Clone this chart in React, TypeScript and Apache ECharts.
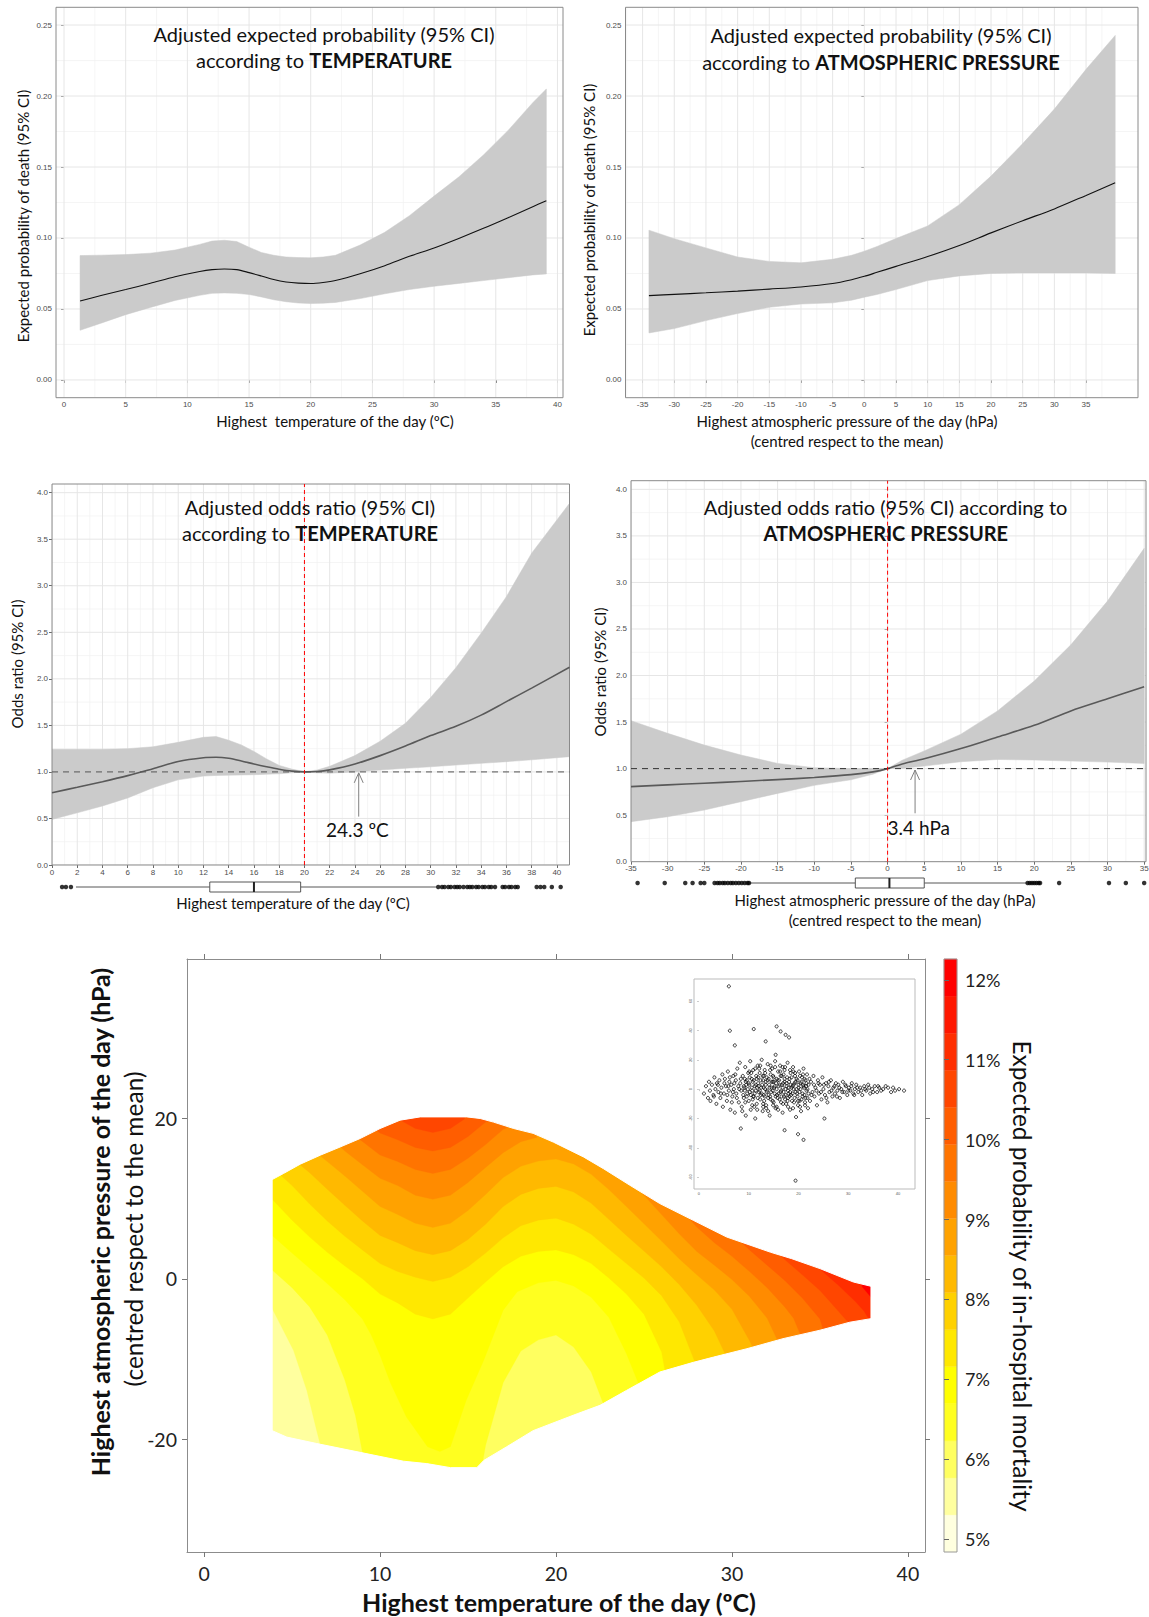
import React, { useEffect, useRef } from "react";
import * as echarts from "echarts";

// ---------------- Panel A: expected probability vs temperature ----------------
const tempX = [1.3, 3, 5, 7, 9, 11, 12, 13, 14, 15, 16, 17, 18, 19, 20, 21, 22, 24, 26, 28, 30, 32, 34, 36, 38, 39.1];
const tempProbFit = [0.0556, 0.0595, 0.0637, 0.0681, 0.0727, 0.0764, 0.0777, 0.0782, 0.0777, 0.0756, 0.0732, 0.0707, 0.069, 0.0682, 0.0679, 0.0686, 0.07, 0.0748, 0.0805, 0.0871, 0.093, 0.0997, 0.1068, 0.1143, 0.122, 0.1263];
const tempProbUp = [0.0876, 0.0879, 0.0883, 0.0893, 0.0915, 0.0955, 0.0978, 0.0984, 0.0975, 0.0935, 0.0898, 0.0878, 0.0866, 0.0862, 0.086, 0.0866, 0.0878, 0.095, 0.104, 0.1157, 0.1295, 0.143, 0.1585, 0.1758, 0.1953, 0.205];
const tempProbLow = [0.035, 0.04, 0.046, 0.0511, 0.056, 0.0596, 0.061, 0.0613, 0.061, 0.0602, 0.0585, 0.0565, 0.0551, 0.0542, 0.0538, 0.0541, 0.0546, 0.0573, 0.0607, 0.0637, 0.066, 0.068, 0.07, 0.072, 0.074, 0.0747];

// ---------------- Panel B: expected probability vs pressure ----------------
const presX = [-34, -30, -25, -20, -15, -10, -5, -2, 0, 2, 5, 10, 15, 20, 25, 30, 35, 39.6];
const presProbFit = [0.0594, 0.0603, 0.0614, 0.0626, 0.064, 0.0655, 0.0679, 0.0706, 0.073, 0.0758, 0.08, 0.0869, 0.0947, 0.1036, 0.1122, 0.1205, 0.13, 0.1389];
const presProbUp = [0.1055, 0.0995, 0.093, 0.0866, 0.0835, 0.0825, 0.085, 0.0878, 0.0907, 0.094, 0.0996, 0.1085, 0.1235, 0.1436, 0.1665, 0.1908, 0.2188, 0.2427];
const presProbLow = [0.0331, 0.0362, 0.0418, 0.0468, 0.0512, 0.0535, 0.0543, 0.0562, 0.0583, 0.0602, 0.0637, 0.07, 0.0733, 0.075, 0.0754, 0.0754, 0.0754, 0.075];

// ---------------- Panel C: odds ratio vs temperature ----------------
const orTempX = [0, 2, 4, 6, 8, 10, 12, 13, 14, 15, 16, 17, 18, 19, 20, 21, 22, 24, 26, 28, 30, 32, 34, 36, 38, 41];
const orTempFit = [0.777, 0.835, 0.895, 0.96, 1.035, 1.112, 1.152, 1.157, 1.146, 1.118, 1.085, 1.055, 1.028, 1.008, 1.0, 1.004, 1.022, 1.085, 1.175, 1.278, 1.39, 1.49, 1.61, 1.755, 1.9, 2.124];
const orTempUp = [1.243, 1.243, 1.243, 1.25, 1.27, 1.318, 1.372, 1.38, 1.34, 1.29, 1.22, 1.14, 1.07, 1.03, 1.003, 1.02, 1.06, 1.175, 1.33, 1.522, 1.8, 2.12, 2.49, 2.883, 3.35, 3.885];
const orTempLow = [0.49, 0.56, 0.634, 0.72, 0.83, 0.915, 0.955, 0.962, 0.965, 0.967, 0.97, 0.975, 0.98, 0.99, 1.0, 0.99, 0.986, 1.0, 1.02, 1.039, 1.055, 1.074, 1.092, 1.11, 1.13, 1.164];
const tempReference = 20;
const tempThreshold = 24.3;
const tempThresholdLabel = "24.3 ºC";
const tempBox = [1.9, 12.5, 16.0, 19.7, 30.45];
const tempOutliers = [0.8, 1.1, 1.5, 30.6, 30.9, 31.1, 31.4, 31.6, 31.9, 32.1, 32.3, 32.6, 32.9, 33.1, 33.3, 33.6, 33.8, 34.1, 34.3, 34.6, 34.8, 35.1, 35.7, 35.9, 36.2, 36.4, 36.7, 36.9, 38.4, 38.7, 39.0, 39.6, 40.3];

// ---------------- Panel D: odds ratio vs pressure ----------------
const orPresX = [-35, -30, -25, -20, -15, -10, -5, -2, 0, 2, 5, 10, 15, 20, 25, 30, 35];
const orPresFit = [0.806, 0.825, 0.843, 0.862, 0.882, 0.905, 0.935, 0.965, 1.0, 1.05, 1.105, 1.215, 1.34, 1.465, 1.62, 1.75, 1.88];
const orPresUp = [1.515, 1.379, 1.253, 1.146, 1.056, 1.01, 1.0, 1.0, 1.0, 1.09, 1.19, 1.37, 1.62, 1.94, 2.33, 2.8, 3.366];
const orPresLow = [0.43, 0.483, 0.555, 0.645, 0.734, 0.82, 0.88, 0.94, 1.0, 1.005, 1.027, 1.074, 1.098, 1.092, 1.081, 1.07, 1.056];
const presReference = 0;
const presThreshold = 3.75;
const presThresholdLabel = "3.4 hPa";
const presBox = [-18.75, -4.4, 0.25, 5.0, 19.0];
const presOutliers = [-34.1, -30.4, -27.6, -26.6, -25.5, -25.0, -23.6, -23.2, -22.9, -22.5, -22.2, -21.8, -21.4, -21.1, -20.7, -20.3, -19.9, -19.5, -19.1, -18.9, 19.1, 19.4, 19.7, 20.0, 20.3, 20.6, 20.8, 23.4, 30.2, 32.5, 35.0];

// ---------------- Panel E: joint surface (contours of expected probability) ----------------
const heatBreaks = [4.84, 5.304, 5.767, 6.231, 6.695, 7.159, 7.622, 8.086, 8.55, 9.014, 9.477, 9.941, 10.405, 10.869, 11.332, 11.796, 12.26];
const heatColors = ["#FFFFDF", "#FFFF9F", "#FFFF60", "#FFFF20", "#FFFF00", "#FFE800", "#FFD100", "#FFB900", "#FFA200", "#FF8B00", "#FF7400", "#FF5D00", "#FF4600", "#FF2E00", "#FF1700", "#FF0000"];
const heatTicks = [5, 6, 7, 8, 9, 10, 11, 12];
// boundary above which the surface reaches level k (temperature, pressure)
const contourL2 = [[3, -0.8], [3.87, -3.7], [5.08, -8.9], [5.84, -13.9], [6.4, -18.9], [6.6, -20.6], [6.6, -30], [40, -30]];
const contourL3 = [[3, 2.9], [3.87, 1.1], [5, -1.1], [6, -3.5], [7, -7], [8, -12.6], [8.6, -17], [9, -21.6], [9.2, -30], [15.7, -30], [15.8, -23.2], [16, -20.7], [17, -12.9], [18, -9], [19, -7.6], [20, -7.0], [21, -8.5], [22, -11.6], [22.7, -15.6], [22.8, -30], [40, -30]];
const contourL4 = [[3, 7.3], [3.87, 5.4], [5, 3.2], [6, 1.3], [7, -0.6], [8, -2.6], [9, -5.0], [9.5, -7], [10, -9.5], [10.6, -13], [11.5, -17.2], [12.7, -20.9], [13.4, -21.5], [14, -20.9], [14.9, -15.1], [15.9, -10.1], [17, -3.9], [17.8, -1.6], [19, -0.5], [20, -0.2], [21, -0.9], [22, -2.3], [23, -4.8], [24, -9.3], [24.7, -13.1], [24.8, -30], [40, -30]];
const contourL5 = [[3, 11.9], [3.87, 9.9], [5, 7.3], [6, 5.2], [7, 3.3], [8, 1.6], [9, 0], [10, -1.9], [11, -3], [12, -4.4], [13, -5.0], [14, -4.4], [15, -2.4], [16, -0.4], [17, 1.5], [18, 2.8], [19, 3.4], [20, 3.6], [21, 3.0], [22, 1.9], [23, 0.1], [24, -1.9], [25, -4.4], [26, -9.1], [26.2, -11.5], [26.3, -30], [40, -30]];
const contourL6 = [[3, 28], [4.3, 28], [4.3, 13.0], [5, 11.6], [6, 9.3], [7, 7.2], [8, 5.3], [9, 3.6], [10, 1.9], [11, 0.9], [12, 0.2], [13, -0.35], [14, 0.2], [15, 1.5], [16, 3.2], [17, 5.1], [18, 6.6], [19, 7.3], [20, 7.55], [21, 6.8], [22, 5.55], [23, 3.7], [24, 1.9], [25, 0.1], [26, -2.1], [27, -5.35], [27.5, -8.15], [27.9, -10.4], [28, -30], [40, -30]];
const contourL7 = [[3, 28], [5.4, 28], [5.4, 14.3], [6, 13.2], [7, 11.15], [8, 9.15], [9, 7.2], [10, 5.4], [11, 4.5], [12, 3.5], [13, 3.0], [14, 3.5], [15, 4.9], [16, 6.8], [17, 9.0], [18, 10.5], [19, 11.25], [20, 11.5], [21, 10.8], [22, 9.4], [23, 7.4], [24, 5.4], [25, 3.45], [26, 1.5], [27, -0.7], [28, -3.3], [29, -6.5], [29.6, -9.3], [29.7, -30], [40, -30]];
const contourL8 = [[3, 28], [6.6, 28], [6.6, 15.3], [7, 14.6], [8, 12.8], [9, 10.9], [10, 9.0], [11, 8.0], [12, 6.9], [13, 6.4], [14, 6.9], [15, 8.5], [16, 10.5], [17, 12.6], [18, 14.0], [19, 14.65], [20, 14.9], [21, 14.3], [22, 13.0], [23, 11.1], [24, 9.0], [25, 6.85], [26, 4.7], [27, 2.5], [28, 0.5], [29, -1.4], [30, -3.8], [31, -7.7], [31.2, -8.6], [31.3, -30], [40, -30]];
const contourL9 = [[3, 28], [7.8, 28], [7.8, 16.3], [8, 15.9], [9, 14.2], [10, 12.5], [11, 11.6], [12, 10.4], [13, 9.9], [14, 10.4], [15, 12.0], [16, 13.85], [17, 15.7], [18, 17.05], [18.9, 17.6], [18.9, 28], [24.8, 28], [24.8, 10.8], [25, 10.4], [26, 8.0], [27, 5.6], [28, 3.4], [29, 1.7], [30, -0.1], [31, -2.2], [32, -4.9], [32.5, -7.25], [32.6, -7.7], [32.7, -30], [40, -30]];
const contourL10 = [[3, 28], [8.8, 28], [8.8, 17.4], [9, 17.1], [10, 15.4], [11, 14.6], [12, 13.6], [13, 13.1], [14, 13.6], [15, 15.0], [16, 16.7], [17, 18.6], [17.2, 18.8], [17.2, 28], [27.6, 28], [27.6, 7.4], [28, 6.45], [29, 4.5], [30, 2.8], [31, 0.9], [32, -1.1], [33, -3.5], [33.5, -4.9], [33.9, -7.0], [34, -30], [40, -30]];
const contourL11 = [[3, 28], [9.8, 28], [9.8, 18.5], [10, 18.15], [11, 17.3], [12, 16.35], [13, 15.9], [14, 16.35], [15, 17.7], [16, 19.5], [16.2, 19.7], [16.2, 28], [30.5, 28], [30.5, 4.6], [31, 3.6], [32, 1.7], [33, -0.2], [34, -2.4], [35, -5.0], [35.2, -6.4], [35.3, -30], [40, -30]];
const contourL12 = [[3, 28], [11.2, 28], [11.2, 19.7], [12, 18.7], [13, 18.2], [14, 18.7], [14.8, 19.9], [14.8, 28], [32.7, 28], [32.7, 3.0], [33, 2.4], [34, 0.5], [35, -1.45], [36, -3.9], [36.5, -5.15], [36.7, -5.5], [36.8, -30], [40, -30]];
const contourL13 = [[3, 28], [35, 28], [35, 1.2], [36, -0.7], [37, -2.8], [37.5, -4.0], [37.8, -5.1], [37.9, -30], [40, -30]];
const contourL14 = [[3, 28], [36.8, 28], [36.8, 0.0], [37.5, -1.0], [38, -1.9], [39, -4.4], [39.5, -30], [40, -30]];
const contourL15 = [[3, 28], [37.4, 28], [37.4, -1.0], [37.9, -2.3], [38.5, -6], [40, -30]];
const heatContours = [contourL2, contourL3, contourL4, contourL5, contourL6, contourL7, contourL8, contourL9, contourL10, contourL11, contourL12, contourL13, contourL14, contourL15];
// observed data region (upper and lower edges)
const maskUpper = [[3.87, 12.35], [4.51, 13.1], [5.46, 14.26], [6.6, 15.38], [7.73, 16.4], [8.87, 17.46], [10, 18.7], [11.14, 19.74], [12.28, 20.15], [14.93, 20.15], [15.69, 19.95], [16.45, 19.5], [17.6, 18.7], [18.7, 18.1], [19.86, 17.0], [21.56, 15.17], [22.7, 13.7], [24.2, 11.64], [25.9, 9.36], [27.8, 7.28], [29.7, 5.2], [32.2, 3.3], [33.4, 2.5], [35.0, 1.27], [36.9, -0.4], [37.9, -0.93]];
const maskLower = [[37.9, -4.96], [36.7, -5.4], [35.0, -6.4], [32.9, -7.45], [30.85, -8.7], [28.96, -9.74], [27.8, -10.4], [25.9, -11.6], [24.0, -13.9], [22.5, -15.75], [21.2, -16.8], [20.24, -17.6], [18.7, -18.9], [17.2, -20.9], [15.9, -22.6], [15.5, -23.5], [14.0, -23.5], [12.66, -23.0], [11.33, -22.7], [8.87, -21.6], [6.4, -20.5], [4.7, -19.7], [3.87, -18.9]];

// inset scatter: observed (temperature, pressure) days
const insetPoints = [
  [1.0, -3], [1.4, 2], [1.8, -6], [2.0, 5], [2.2, -1], [2.3, -8], [2.6, 3], [2.9, -4], [3.1, 8], [3.3, 0], [3.5, -10], [3.6, 4], [3.9, -2], [4.1, 6], [4.3, -6], [4.5, 1], [4.7, 10], [4.8, -12], [5.0, -3], [5.2, 7], [5.4, 2], [5.6, -8], [5.8, 12], [6.0, -1], [6.1, 5], [6.3, -14], [6.5, 3], [6.7, -5], [6.9, 9], [7.0, 0],
  [7.2, -16], [7.4, 6], [7.5, -3], [7.7, 14], [7.9, 2], [8.0, -9], [8.2, 18], [8.3, 4], [8.5, -1], [8.6, -12], [8.8, 9], [9.0, -6], [9.1, 1], [9.3, 15], [9.4, -18], [9.6, 6], [9.7, -3], [9.9, 11], [10.0, -8], [10.1, 3], [10.3, 19], [10.4, -14], [10.6, 7], [10.7, -1], [10.9, 13], [11.0, -5], [11.2, 2], [11.3, -20], [11.5, 9], [11.6, -10], [11.8, 16], [11.9, 4], [12.0, -2], [12.2, 11], [12.3, -7], [12.5, 1], [12.6, 20], [12.8, -15], [12.9, 6], [13.0, -4], [13.2, 13], [13.3, 0], [13.5, -11], [13.6, 8], [13.8, 17], [13.9, -6], [14.1, 3], [14.2, -18], [14.4, 10], [14.5, -2], [14.7, 14], [14.8, 5], [15.0, -9], [15.1, 1], [15.3, 19], [15.4, -13], [15.6, 7], [15.7, -4], [15.9, 12], [16.0, 2], [16.2, -7], [16.3, 16], [16.5, -1], [16.6, 9], [16.8, -16], [16.9, 4], [17.1, -5], [17.2, 13], [17.4, 0], [17.5, -10], [17.7, 8], [17.8, 18], [18.0, -3], [18.1, 5], [18.3, -14], [18.4, 11], [18.6, 1], [18.7, -8], [18.9, 15], [19.0, 3], [19.2, -6], [19.3, 9], [19.5, -19], [19.6, 0], [19.8, 6], [19.9, -11], [20.1, 12], [20.2, -2], [20.4, 4], [20.5, -15], [20.7, 8], [20.8, -5], [21.0, 14], [21.1, 1], [21.3, -9], [21.4, 6], [21.6, -1], [21.7, 10], [21.9, -13], [22.0, 3],
  [8.1, 0], [8.9, -4], [9.5, 3], [10.2, -2], [10.8, 5], [11.4, -1], [11.9, 8], [12.4, -4], [12.7, 3], [13.1, -8], [13.4, 5], [13.7, -1], [14.0, 7], [14.3, -5], [14.6, 1], [14.9, 9], [15.2, -3], [15.5, 4], [15.8, -6], [16.1, 6], [16.4, -2], [16.7, 3], [17.0, 10], [17.3, -7], [17.6, 2], [17.9, -1], [18.2, 7], [18.5, -4], [18.8, 2], [19.1, -9], [19.4, 5], [19.7, -3], [20.0, 1], [20.3, 9], [20.6, -7], [20.9, 3], [21.2, -4], [21.5, 2], [21.8, -6], [9.2, 7], [10.5, 11], [11.1, -12], [12.1, 14], [13.5, -13], [14.4, 16], [15.6, -12], [16.8, 15], [17.9, -12], [19.0, 12], [11.7, 1], [13.0, 9], [15.0, 5], [16.5, -9], [18.3, -2], [12.9, -10], [14.8, -8], [17.2, 5], [10.9, -5],
  [9.0, 2], [9.2, -1], [9.4, 5], [9.6, -5], [9.8, 0], [10.0, 4], [10.2, 8], [10.4, -4], [10.6, 1], [10.8, -7], [11.0, 6], [11.2, -3], [11.4, 3], [11.6, 7], [11.8, -6], [12.0, 2], [12.2, -1], [12.4, 6], [12.6, -3], [12.8, 9], [13.0, 1], [13.2, -5], [13.4, 3], [13.6, -2], [13.8, 6], [14.0, -4], [14.2, 1], [14.4, -7], [14.6, 5], [14.8, -1], [15.0, 8], [15.2, 2], [15.4, -5], [15.6, 0], [15.8, 6], [16.0, -3], [16.2, 3], [16.4, 9], [16.6, -5], [16.8, 1], [17.0, -2], [17.2, 7], [17.4, -4], [17.6, 4], [17.8, -8], [18.0, 1], [18.2, -5], [18.4, 3], [18.6, 8], [18.8, -3], [19.0, 0], [19.2, 4], [19.4, -2], [19.6, 7], [19.8, -5], [20.0, 3], [20.2, -8], [20.4, 0], [20.6, 5], [20.8, -3], [21.0, 2], [21.2, 7], [21.4, -6], [21.6, 4], [21.8, 0], [22.0, -3],
  [9.3, -9], [10.1, 12], [10.7, -11], [11.3, 14], [11.7, -14], [12.3, 16], [12.9, -12], [13.3, 11], [13.9, -15], [14.3, 13], [14.9, -11], [15.3, 15], [15.9, -14], [16.3, 12], [16.9, -10], [17.3, 15], [17.9, -6], [18.3, 13], [18.9, -13], [19.3, 11], [19.9, -8], [20.3, -12], [20.9, 10], [21.3, -11], [22.2, 7], [22.6, -4], [23.1, 3], [23.6, -1], [24.0, 4], [24.5, -2], [25.1, 3], [25.6, -6], [26.1, 5], [26.6, -1], [27.2, 2], [27.7, -5], [28.2, 1], [28.8, -2], [29.4, 3], [30.0, -1], [30.6, 2], [31.2, -4], [31.8, 1], [32.6, -1], [33.4, 0], [34.2, 1], [35.0, -2], [36.0, 2], [37.0, 0], [38.0, 1],
  [3.0, -5], [3.8, 3], [4.4, -3], [5.1, 4], [5.7, -4], [6.2, 8], [6.6, -9], [7.1, 4], [7.6, -6], [8.4, 7], [8.7, -15], [7.3, 10], [6.8, -2], [5.9, 2],
  [22.3, -8], [22.5, 5], [22.8, -2], [23.0, 9], [23.2, -5], [23.4, 1], [23.7, -11], [23.9, 6], [24.1, -3], [24.3, 3], [24.6, -7], [24.8, 8], [25.0, 0], [25.3, -4], [25.5, 4], [25.8, -9], [26.0, 2], [26.2, -2], [26.5, 6], [26.8, -5], [27.0, 1], [27.3, -3], [27.5, 4], [27.8, -1], [28.0, 3], [28.3, -6], [28.6, 0], [28.9, 5], [29.2, -2], [29.5, 2], [29.8, -4], [30.1, 1], [30.4, -1], [30.7, 4], [31.0, -3], [31.3, 0], [31.6, 3], [32.0, -2], [32.4, 1], [32.8, -4], [33.2, 2], [33.6, -1], [34.0, 3], [34.4, -3], [34.8, 0], [35.3, 2], [35.8, -2], [36.2, 1], [36.6, -1], [37.5, 2], [38.6, -2], [39.0, 1], [39.4, -1], [40.2, 0], [41.2, -1],
  [6.0, 70], [6.2, 39.8], [11, 40.9], [15.6, 42.7], [16.4, 39.3], [17.4, 37], [18.1, 35.2], [13.4, 32.5], [7.2, 29.8], [15.4, 23.4], [19.9, -30.7], [21, -34.5], [19.4, -62.3], [25.2, -20], [17.2, -28], [8.4, -26.8],
];

// tick values
const p1XMajor = [0, 5, 10, 15, 20, 25, 30, 35, 40];
const p1XMinor = [2.5, 7.5, 12.5, 17.5, 22.5, 27.5, 32.5, 37.5];
const probYMajor = [0, 0.05, 0.1, 0.15, 0.2, 0.25];
const probYMinor = [0.025, 0.075, 0.125, 0.175, 0.225];
const presXMajor = [-35, -30, -25, -20, -15, -10, -5, 0, 5, 10, 15, 20, 25, 30, 35];
const presXMinor = [-37.5, -32.5, -27.5, -22.5, -17.5, -12.5, -7.5, -2.5, 2.5, 7.5, 12.5, 17.5, 22.5, 27.5, 32.5, 37.5];
const p3XMajor = [0, 2, 4, 6, 8, 10, 12, 14, 16, 18, 20, 22, 24, 26, 28, 30, 32, 34, 36, 38, 40];
const p3XMinor = [1, 3, 5, 7, 9, 11, 13, 15, 17, 19, 21, 23, 25, 27, 29, 31, 33, 35, 37, 39];
const orYMajor = [0, 0.5, 1, 1.5, 2, 2.5, 3, 3.5, 4];
const orYMinor = [0.25, 0.75, 1.25, 1.75, 2.25, 2.75, 3.25, 3.75];
const p4XMinor = [-32.5, -27.5, -22.5, -17.5, -12.5, -7.5, -2.5, 2.5, 7.5, 12.5, 17.5, 22.5, 27.5, 32.5];
const heatXTicks = [0, 10, 20, 30, 40];
const heatYTicks = [-20, 0, 20];
const insetXTicks = [0, 10, 20, 30, 40];
const insetYTicks = [-60, -40, -20, 0, 20, 40, 60];

const FONT = "Lato, 'Open Sans', sans-serif";
const GGF = "'Liberation Sans', Arial, sans-serif";

function txt(x: number, y: number, text: string, size: number, opts: any = {}) {
  const color = opts.color || "#111";
  return {
    type: "text",
    x,
    y,
    rotation: opts.rot || 0,
    z: 100,
    silent: true,
    style: {
      text,
      fontSize: size,
      fontFamily: FONT,
      fontWeight: opts.bold ? "bold" : "normal",
      fill: color,
      textAlign: "center",
      textVerticalAlign: "middle",
      align: "center",
      verticalAlign: "middle",
      rich: { b: { fontWeight: "bold", fontSize: size, fontFamily: FONT, fill: color } },
    },
  };
}

function gridLines(idx: number, xMaj: number[], xMin: number[], yMaj: number[], yMin: number[], anchor: number[]) {
  const specs: number[][] = [];
  xMin.forEach((v) => specs.push([0, v, 0]));
  yMin.forEach((v) => specs.push([1, v, 0]));
  xMaj.forEach((v) => specs.push([0, v, 1]));
  yMaj.forEach((v) => specs.push([1, v, 1]));
  return {
    type: "custom",
    xAxisIndex: idx,
    yAxisIndex: idx,
    z: 1,
    silent: true,
    clip: true,
    data: specs.map(() => anchor),
    renderItem: (params: any, api: any) => {
      const s = specs[params.dataIndex];
      const cs = params.coordSys;
      const style = { stroke: s[2] ? "#E6E6E6" : "#F1F1F1", lineWidth: s[2] ? 1 : 0.7 };
      if (s[0] === 0) {
        const px = api.coord([s[1], anchor[1]])[0];
        return { type: "line", shape: { x1: px, y1: cs.y, x2: px, y2: cs.y + cs.height }, style };
      }
      const py = api.coord([anchor[0], s[1]])[1];
      return { type: "line", shape: { x1: cs.x, y1: py, x2: cs.x + cs.width, y2: py }, style };
    },
  };
}

function band(idx: number, xs: number[], low: number[], up: number[]) {
  const pts = [...xs.map((x, i) => [x, up[i]]), ...xs.map((x, i) => [x, low[i]]).reverse()];
  return {
    type: "custom", xAxisIndex: idx, yAxisIndex: idx, z: 2, silent: true, clip: true,
    data: [[xs[0], low[0]]],
    renderItem: (params: any, api: any) => ({
      type: "polygon",
      shape: { points: pts.map((q) => api.coord(q)) },
      style: { fill: "#CBCBCB", stroke: "#CBCBCB", lineWidth: 0.5 },
    }),
  };
}

function fitLine(idx: number, xs: number[], ys: number[], color: string, width: number) {
  return {
    type: "line", xAxisIndex: idx, yAxisIndex: idx, symbol: "none", smooth: 0.3, silent: true, z: 4,
    data: xs.map((x, i) => [x, ys[i]]),
    lineStyle: { color, width },
  };
}

function ggX(gridIndex: number, min: number, max: number, ticks: number[]) {
  return {
    gridIndex, type: "value", min, max,
    axisLine: { show: false },
    axisTick: { show: true, length: 3, lineStyle: { color: "#444", width: 0.8 }, customValues: ticks },
    axisLabel: { show: true, customValues: ticks, fontSize: 8, color: "#4D4D4D", fontFamily: GGF, margin: 3 },
    splitLine: { show: false },
    minorTick: { show: false },
    minorSplitLine: { show: false },
  };
}

function ggY(gridIndex: number, min: number, max: number, ticks: number[], digits: number) {
  return {
    gridIndex, type: "value", min, max,
    axisLine: { show: false },
    axisTick: { show: true, length: 3, lineStyle: { color: "#444", width: 0.8 }, customValues: ticks },
    axisLabel: {
      show: true, customValues: ticks, fontSize: 8, color: "#4D4D4D", fontFamily: GGF, margin: 4,
      formatter: (v: number) => v.toFixed(digits),
    },
    splitLine: { show: false },
    minorTick: { show: false },
    minorSplitLine: { show: false },
  };
}

function hidden(gridIndex: number, min: number, max: number) {
  return { gridIndex, type: "value", min, max, show: false, splitLine: { show: false } };
}

function refLine(idx: number, pts: number[][], color: string, dash: number[], z: number) {
  return {
    type: "line", xAxisIndex: idx, yAxisIndex: idx, symbol: "none", silent: true, z,
    data: pts,
    lineStyle: { color, width: 1, type: dash },
  };
}

function arrow(idx: number, x: number, y0: number, y1: number) {
  return {
    type: "custom", xAxisIndex: idx, yAxisIndex: idx, z: 6, silent: true,
    data: [[x, y0, y1]],
    renderItem: (params: any, api: any) => {
      const a = api.coord([api.value(0), api.value(1)]);
      const b = api.coord([api.value(0), api.value(2)]);
      return {
        type: "group",
        children: [
          { type: "line", shape: { x1: a[0], y1: a[1], x2: b[0], y2: b[1] }, style: { stroke: "#808080", lineWidth: 1 } },
          { type: "polyline", shape: { points: [[b[0] - 4.5, b[1] + 10], [b[0], b[1]], [b[0] + 4.5, b[1] + 10]] }, style: { stroke: "#808080", lineWidth: 1, fill: "none" } },
        ],
      };
    },
  };
}

function annot(idx: number, x: number, y: number, label: string) {
  return {
    type: "custom", xAxisIndex: idx, yAxisIndex: idx, z: 7, silent: true,
    data: [[x, y]],
    renderItem: (params: any, api: any) => {
      const c = api.coord([api.value(0), api.value(1)]);
      return {
        type: "text", x: c[0], y: c[1],
        style: { text: label, fontSize: 19, fontFamily: FONT, fill: "#111", textAlign: "center", textVerticalAlign: "middle", align: "center", verticalAlign: "middle" },
      };
    },
  };
}

function boxSeries(idx: number, b: number[], outliers: number[]) {
  return [
    {
      type: "custom", xAxisIndex: idx, yAxisIndex: idx, z: 3, silent: true,
      data: [[b[2], 0]],
      renderItem: (params: any, api: any) => {
        const p = b.map((v) => api.coord([v, 0]));
        const cy = p[0][1];
        const h = 5;
        const st = { stroke: "#444", lineWidth: 0.9 };
        return {
          type: "group",
          children: [
            { type: "line", shape: { x1: p[0][0], y1: cy, x2: p[1][0], y2: cy }, style: st },
            { type: "line", shape: { x1: p[3][0], y1: cy, x2: p[4][0], y2: cy }, style: st },
            { type: "rect", shape: { x: p[1][0], y: cy - h, width: p[3][0] - p[1][0], height: 2 * h }, style: { fill: "#fff", stroke: "#444", lineWidth: 0.9 } },
            { type: "line", shape: { x1: p[2][0], y1: cy - h, x2: p[2][0], y2: cy + h }, style: { stroke: "#222", lineWidth: 2 } },
          ],
        };
      },
    },
    {
      type: "scatter", xAxisIndex: idx, yAxisIndex: idx, z: 4, silent: true,
      symbol: "circle", symbolSize: 4.5,
      itemStyle: { color: "#000" },
      data: outliers.map((v) => [v, 0]),
    },
  ];
}

function buildHeatPolys() {
  const polys: any[] = [];
  polys.push({ pts: [[-5, -60], [45, -60], [45, 60], [-5, 60]], color: heatColors[1] });
  heatContours.forEach((c, i) => {
    const first = c[0][0];
    const last = c[c.length - 1][0];
    polys.push({ pts: [...c, [last, 60], [first, 60]], color: heatColors[i + 2] });
  });
  const u0 = maskUpper[0];
  const u1 = maskUpper[maskUpper.length - 1];
  const l0 = maskLower[0];
  const l1 = maskLower[maskLower.length - 1];
  const W = "#FFFFFF";
  polys.push({ pts: [[-5, u0[1]], ...maskUpper, [45, u1[1]], [45, 60], [-5, 60]], color: W });
  polys.push({ pts: [[45, l0[1]], ...maskLower, [-5, l1[1]], [-5, -60], [45, -60]], color: W });
  polys.push({ pts: [[-5, -60], [u0[0], -60], [u0[0], 60], [-5, 60]], color: W });
  polys.push({ pts: [[u1[0], -60], [45, -60], [45, 60], [u1[0], 60]], color: W });
  return polys;
}

function buildOption() {
  const heatPolys = buildHeatPolys();
  const heatAxisLabel = { fontSize: 19.5, fontFamily: FONT, color: "#222" };
  const grids = [
    { left: 56, top: 7.3, width: 507, height: 390.4 },
    { left: 625.5, top: 7.3, width: 512.5, height: 390.4 },
    { left: 52, top: 484, width: 517.5, height: 381 },
    { left: 631, top: 480.7, width: 515, height: 381 },
    { left: 52, top: 880, width: 517.5, height: 14 },
    { left: 631, top: 876, width: 515, height: 14 },
    { left: 187, top: 959, width: 738, height: 593 },
    { left: 694, top: 979, width: 221, height: 210 },
    { left: 944, top: 959, width: 13, height: 593 },
  ].map((g, i) => ({
    ...g,
    containLabel: false,
    outerBoundsMode: "none",
    show: i <= 3 || i === 7 || i === 8,
    borderColor: i === 7 ? "#BBBBBB" : i === 8 ? "#999999" : "#8A8A8A",
    borderWidth: 1,
    backgroundColor: i === 7 ? "#FFFFFF" : "transparent",
    z: i === 7 ? 5 : 3,
  }));

  const xAxis = [
    ggX(0, -0.65, 40.45, p1XMajor),
    ggX(1, -37.7, 43.2, presXMajor),
    ggX(2, 0, 41, p3XMajor),
    ggX(3, -35, 35.25, presXMajor),
    hidden(4, 0, 41),
    hidden(5, -35, 35.25),
    {
      gridIndex: 6, type: "value", min: -0.97, max: 40.97, z: 10, position: "bottom",
      axisLine: { show: true, onZero: false, lineStyle: { color: "#8C8C8C", width: 1 } },
      axisTick: { show: true, length: 5, customValues: heatXTicks, lineStyle: { color: "#777" } },
      axisLabel: { ...heatAxisLabel, customValues: heatXTicks, margin: 11 },
      splitLine: { show: false },
    },
    {
      gridIndex: 6, type: "value", min: -0.97, max: 40.97, z: 10, position: "top",
      axisLine: { show: true, onZero: false, lineStyle: { color: "#8C8C8C", width: 1 } },
      axisTick: { show: true, length: 5, customValues: heatXTicks, lineStyle: { color: "#777" } },
      axisLabel: { show: false },
      splitLine: { show: false },
    },
    {
      gridIndex: 7, type: "value", min: -1, max: 43.4, z: 6,
      axisLine: { show: false },
      axisTick: { show: true, length: 2, customValues: insetXTicks, lineStyle: { color: "#999", width: 0.5 } },
      axisLabel: { customValues: insetXTicks, fontSize: 4, color: "#555", margin: 2, fontFamily: GGF },
      splitLine: { show: false },
    },
    hidden(8, 0, 1),
  ];

  const yAxis = [
    ggY(0, -0.0125, 0.2625, probYMajor, 2),
    ggY(1, -0.0125, 0.2625, probYMajor, 2),
    ggY(2, 0, 4.093, orYMajor, 1),
    ggY(3, 0, 4.093, orYMajor, 1),
    hidden(4, -1, 1),
    hidden(5, -1, 1),
    {
      gridIndex: 6, type: "value", min: -34, max: 39.8, z: 10, position: "left",
      axisLine: { show: true, onZero: false, lineStyle: { color: "#8C8C8C", width: 1 } },
      axisTick: { show: true, length: 5, customValues: heatYTicks, lineStyle: { color: "#777" } },
      axisLabel: { ...heatAxisLabel, customValues: heatYTicks, margin: 10 },
      splitLine: { show: false },
    },
    {
      gridIndex: 6, type: "value", min: -34, max: 39.8, z: 10, position: "right",
      axisLine: { show: true, onZero: false, lineStyle: { color: "#8C8C8C", width: 1 } },
      axisTick: { show: true, length: 5, customValues: heatYTicks, lineStyle: { color: "#777" } },
      axisLabel: { show: false },
      splitLine: { show: false },
    },
    {
      gridIndex: 7, type: "value", min: -68, max: 75, z: 6,
      axisLine: { show: false },
      axisTick: { show: true, length: 2, customValues: insetYTicks, lineStyle: { color: "#999", width: 0.5 } },
      axisLabel: { customValues: insetYTicks, fontSize: 4, color: "#555", margin: 2, rotate: 90, fontFamily: GGF },
      splitLine: { show: false },
    },
    {
      gridIndex: 8, type: "value", min: heatBreaks[0], max: heatBreaks[heatBreaks.length - 1], position: "right", z: 10,
      axisLine: { show: false },
      axisTick: { show: true, length: 5, customValues: heatTicks, lineStyle: { color: "#666" } },
      axisLabel: { customValues: heatTicks, fontSize: 18, fontFamily: FONT, color: "#222", margin: 8, formatter: (v: number) => `${v}%` },
      splitLine: { show: false },
    },
  ];

  const series: any[] = [
    // Panel A
    gridLines(0, p1XMajor, p1XMinor, probYMajor, probYMinor, [10, 0.1]),
    band(0, tempX, tempProbLow, tempProbUp),
    fitLine(0, tempX, tempProbFit, "#111", 1.1),
    // Panel B
    gridLines(1, presXMajor, presXMinor, probYMajor, probYMinor, [0, 0.1]),
    band(1, presX, presProbLow, presProbUp),
    fitLine(1, presX, presProbFit, "#111", 1.1),
    // Panel C
    gridLines(2, p3XMajor, p3XMinor, orYMajor, orYMinor, [10, 1]),
    band(2, orTempX, orTempLow, orTempUp),
    fitLine(2, orTempX, orTempFit, "#595959", 1.6),
    refLine(2, [[0, 1], [41, 1]], "#555", [6, 5], 5),
    refLine(2, [[tempReference, 0], [tempReference, 4.093]], "#FF0000", [4, 3], 5),
    arrow(2, tempThreshold, 0.52, 0.99),
    annot(2, 24.2, 0.376, tempThresholdLabel),
    // Panel D
    gridLines(3, presXMajor, p4XMinor, orYMajor, orYMinor, [0, 1]),
    band(3, orPresX, orPresLow, orPresUp),
    fitLine(3, orPresX, orPresFit, "#595959", 1.6),
    refLine(3, [[-35, 1], [35.25, 1]], "#333", [6, 5], 5),
    refLine(3, [[presReference, 0], [presReference, 4.093]], "#FF0000", [4, 3], 5),
    arrow(3, presThreshold, 0.52, 0.985),
    annot(3, 4.25, 0.37, presThresholdLabel),
    // box plots
    ...boxSeries(4, tempBox, tempOutliers),
    ...boxSeries(5, presBox, presOutliers),
    // Panel E heat surface
    {
      type: "custom", xAxisIndex: 6, yAxisIndex: 6, z: 2, silent: true, clip: true,
      data: heatPolys.map(() => [20, 0]),
      renderItem: (params: any, api: any) => {
        const poly = heatPolys[params.dataIndex];
        const points = poly.pts.map((p: number[]) => api.coord(p));
        return { type: "polygon", shape: { points }, style: { fill: poly.color, stroke: poly.color, lineWidth: poly.color === "#FFFFFF" ? 1 : 0.3 } };
      },
    },
    // inset scatter
    {
      type: "scatter", xAxisIndex: 8, yAxisIndex: 8, z: 7, silent: true,
      symbol: "circle", symbolSize: 3.1,
      itemStyle: { color: "rgba(0,0,0,0)", borderColor: "#000", borderWidth: 0.85, opacity: 0.9 },
      data: insetPoints,
    },
    // colour bar
    {
      type: "custom", xAxisIndex: 9, yAxisIndex: 9, z: 2, silent: true,
      data: heatColors.map((c, i) => [0.5, heatBreaks[i]]),
      renderItem: (params: any, api: any) => {
        const i = params.dataIndex;
        const a = api.coord([0, heatBreaks[i]]);
        const b = api.coord([1, heatBreaks[i + 1]]);
        return { type: "rect", shape: { x: a[0], y: b[1], width: b[0] - a[0], height: a[1] - b[1] }, style: { fill: heatColors[i], stroke: heatColors[i], lineWidth: 0.3 } };
      },
    },
  ];

  const graphic = [
    txt(324, 34, "Adjusted expected probability (95% CI)", 20),
    txt(324, 60, "according to {b|TEMPERATURE}", 20),
    txt(881, 35, "Adjusted expected probability (95% CI)", 20),
    txt(881, 62, "according to {b|ATMOSPHERIC PRESSURE}", 20),
    txt(310, 507, "Adjusted odds ratio (95% CI)", 20),
    txt(310, 533, "according to {b|TEMPERATURE}", 20),
    txt(885.6, 507, "Adjusted odds ratio (95% CI) according to", 20),
    txt(885.8, 533, "ATMOSPHERIC PRESSURE", 20, { bold: true }),
    txt(23, 216, "Expected probability of death (95% CI)", 15, { rot: Math.PI / 2 }),
    txt(335, 421, "Highest  temperature of the day (ºC)", 15),
    txt(589, 210, "Expected probability of death (95% CI)", 15, { rot: Math.PI / 2 }),
    txt(847, 421, "Highest atmospheric pressure of the day (hPa)", 15),
    txt(847, 441, "(centred respect to the mean)", 15),
    txt(16.6, 664, "Odds ratio (95% CI)", 15, { rot: Math.PI / 2 }),
    txt(293, 903, "Highest temperature of the day (ºC)", 15),
    txt(600, 672, "Odds ratio (95% CI)", 15, { rot: Math.PI / 2 }),
    txt(885, 900, "Highest atmospheric pressure of the day (hPa)", 15),
    txt(885, 920, "(centred respect to the mean)", 15),
    txt(559, 1602, "Highest temperature of the day (ºC)", 25, { bold: true }),
    txt(100, 1222, "Highest atmospheric pressure of the day (hPa)", 25, { bold: true, rot: Math.PI / 2 }),
    txt(133, 1229, "(centred respect to the mean)", 24.5, { rot: Math.PI / 2 }),
    txt(1022, 1276, "Expected probability of in-hospital mortality", 24.5, { rot: -Math.PI / 2 }),
  ];

  return { animation: false, backgroundColor: "#FFFFFF", grid: grids, xAxis, yAxis, series, graphic };
}

export default function App() {
  const ref = useRef<HTMLDivElement>(null);
  useEffect(() => {
    const chart = echarts.init(ref.current as HTMLDivElement, null, { renderer: "svg" });
    chart.setOption(buildOption() as any);
    return () => chart.dispose();
  }, []);
  return <div ref={ref} style={{ position: "absolute", left: 0, top: 0, width: 1149, height: 1617, background: "#fff" }} />;
}
